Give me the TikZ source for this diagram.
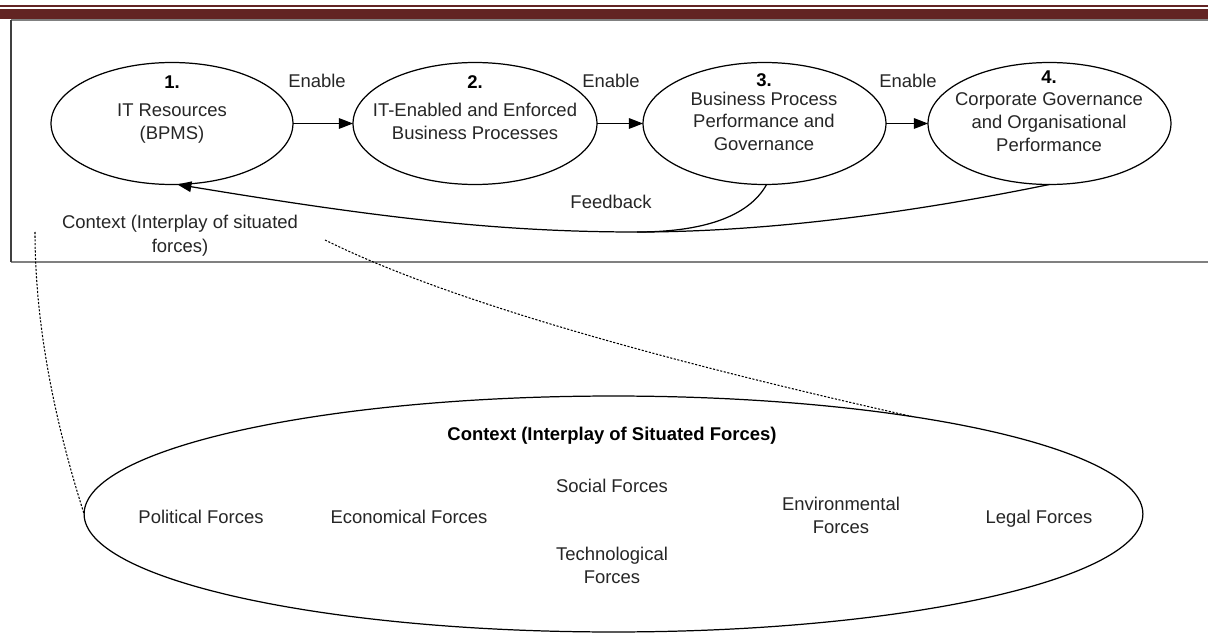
\documentclass[tikz,border=0pt]{standalone}
\usepackage{fontspec}
\setmainfont{Liberation Sans}
\usetikzlibrary{arrows.meta,shapes.geometric}
\definecolor{band}{HTML}{622423}
\definecolor{ink}{HTML}{262626}
\definecolor{frame}{HTML}{808080}
\begin{document}
\begin{tikzpicture}[x=0.02cm,y=-0.02cm,
  ell/.style={draw=black, line width=0.7pt, ellipse, inner sep=0pt, outer sep=0pt, minimum height=2.44cm},
  t/.style={anchor=base, inner sep=0pt, text=ink, font=\fontsize{10.5pt}{12pt}\selectfont},
  tb/.style={anchor=base, inner sep=0pt, text=black, font=\fontsize{10.5pt}{12pt}\selectfont\bfseries},
  arr/.style={line width=0.7pt, -{Triangle[length=8pt,width=6pt]}},
  fb/.style={line width=0.7pt},
  dots/.style={line width=0.6pt, dash pattern=on 1.2pt off 0.9pt}]
\useasboundingbox (0,0) rectangle (1208,635);
\fill[white] (0,0) rectangle (1208,635);
% header band
\fill[band] (0,5) rectangle (1208,7);
\fill[band] (0,9) rectangle (1208,19);
% frame
\draw[frame, line width=1.5pt] (11,262) -- (1208,262);
\draw[frame, line width=1.5pt] (11,20) -- (1208,20);
\draw[black!75, line width=0.8pt] (11,20) -- (11,262);

% process ellipses
\node[ell, minimum width=4.84cm] (e1) at (172,123.5) {};
\node[ell, minimum width=4.88cm] (e2) at (475,123.5) {};
\node[ell, minimum width=4.86cm] (e3) at (764.5,123.5) {};
\node[ell, minimum width=4.86cm] (e4) at (1049.5,123.5) {};

\node[tb] (n1) at (172,89) {1.};
\node[t] (r1a) at (172,117) {IT Resources};
\node[t] (r1b) at (172,140) {(BPMS)};

\node[tb] (n2) at (475,89) {2.};
\node[t] (r2a) at (475,117) {IT-Enabled and Enforced};
\node[t] (r2b) at (475,140) {Business Processes};

\node[tb] (n3) at (764,87) {3.};
\node[t] (r3a) at (764,106) {Business Process};
\node[t] (r3b) at (764,128) {Performance and};
\node[t] (r3c) at (764,151) {Governance};

\node[tb] (n4) at (1049,84) {4.};
\node[t] (r4a) at (1049,106) {Corporate Governance};
\node[t] (r4b) at (1049,129) {and Organisational};
\node[t] (r4c) at (1049,152) {Performance};

% enable arrows
\draw[arr] (e1.east) -- (e2.west);
\draw[arr] (e2.east) -- (e3.west);
\draw[arr] (e3.east) -- (e4.west);
\node[t] (en1) at (317,88) {Enable};
\node[t] (en2) at (611,88) {Enable};
\node[t] (en3) at (908,88) {Enable};

% feedback
\coordinate (M) at (637,232);
\draw[fb] (e3.-88) .. controls (748,218) and (700,232) .. (M);
\draw[fb] (e4.south) .. controls (900,215) and (760,232) .. (M);
\draw[arr] (M) .. controls (500,232) and (380,218) .. (e1.-85);
\node[t] (fbl) at (611,209) {Feedback};

% context label
\node[t] (c1) at (180,229) {Context (Interplay of situated};
\node[t] (c2) at (180,253) {forces)};

% big context ellipse
\node[ell, minimum width=21.18cm, minimum height=4.72cm] (big) at (613.5,514) {};
\node[tb] (bt) at (612,440) {Context (Interplay of Situated Forces)};
\node[t] (soc) at (612,492) {Social Forces};
\node[t] (pol) at (201,523) {Political Forces};
\node[t] (eco) at (409,523) {Economical Forces};
\node[t] (tec1) at (612,560) {Technological};
\node[t] (tec2) at (612,583) {Forces};
\node[t] (env1) at (841,510) {Environmental};
\node[t] (env2) at (841,533) {Forces};
\node[t] (leg) at (1039,523) {Legal Forces};

% dotted zoom lines
\coordinate (dl) at (35,232);
\coordinate (dr) at (325,240);
\draw[dots] (dl) .. controls (35,316) and (51,410) .. (big.west);
\draw[dots] (dr) .. controls (436,295) and (629,353) .. (big.18.7);
\end{tikzpicture}
\end{document}
